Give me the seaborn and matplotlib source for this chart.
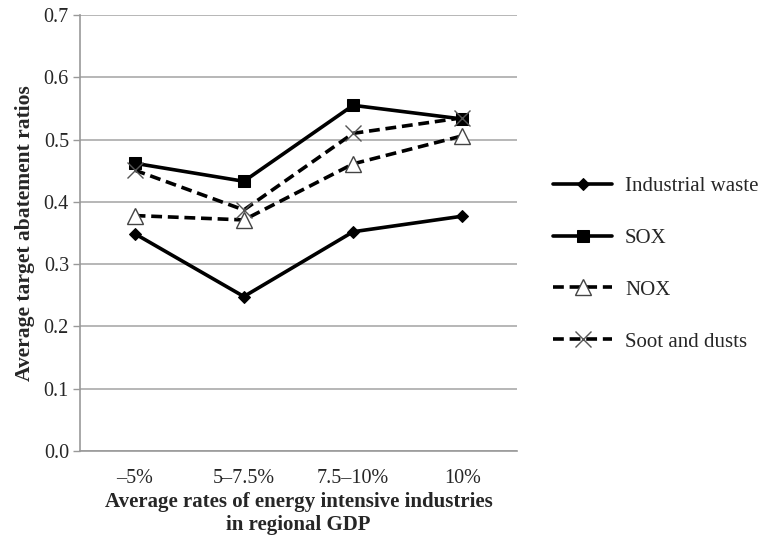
import numpy as np
import pandas as pd
import matplotlib
matplotlib.use("Agg")
import matplotlib.pyplot as plt
import seaborn as sns

categories = ["\u20135%", "5\u20137.5%", "7.5\u201310%", "10%"]
industrial_waste = [0.349, 0.248, 0.352, 0.377]
sox = [0.462, 0.433, 0.555, 0.533]
nox = [0.378, 0.371, 0.461, 0.506]
soot = [0.451, 0.387, 0.510, 0.535]

series_names = ["Industrial waste", "SOX", "NOX", "Soot and dusts"]
series_values = [industrial_waste, sox, nox, soot]

sns.set_theme(style="white")
plt.rcParams["font.family"] = ["Liberation Serif", "DejaVu Serif"]

fig = plt.figure(figsize=(7.61, 5.37), dpi=100)
ax = fig.add_axes([80 / 761, 1 - 451 / 537, 437 / 761, 436 / 537])

xpos = np.arange(len(categories))
styles = {
    "Industrial waste": dict(marker="D", markersize=6, markerfacecolor="black",
                             markeredgecolor="black", dashes=(None, None)),
    "SOX": dict(marker="s", markersize=8, markerfacecolor="black",
                markeredgecolor="black", dashes=(None, None)),
    "NOX": dict(marker="^", markersize=11, markerfacecolor="white",
                markeredgecolor="#444444", markeredgewidth=1.0, dashes=(3, 1.6)),
    "Soot and dusts": dict(marker="x", markersize=12, markerfacecolor="none",
                           markeredgecolor="#555555", markeredgewidth=1.0, dashes=(3, 1.6)),
}

for name, vals in zip(series_names, series_values):
    df = pd.DataFrame({"x": xpos, "y": vals})
    st = dict(styles[name])
    d = st.pop("dashes")
    sns.lineplot(data=df, x="x", y="y", ax=ax, sort=False, color="black",
                 linewidth=2.6, label=name, **st)
    ln = ax.get_lines()[-1]
    if d != (None, None):
        ln.set_dashes(d)

ax.set_xlim(-0.5, len(categories) - 0.5)
ax.set_ylim(0, 0.7)
yt = np.arange(0, 0.71, 0.1)
ax.set_yticks(yt)
ax.set_yticklabels([f"{v:.1f}" for v in yt], fontsize=14.5)
ax.set_xticks(xpos)
ax.set_xticklabels(categories, fontsize=14.5)
ax.set_xticks(np.arange(-0.5, len(categories), 1.0), minor=True)
ax.tick_params(axis="x", which="major", length=0, pad=13)
ax.tick_params(axis="x", which="minor", length=5, color="#999999", width=1, direction="out")
ax.tick_params(axis="y", length=5, color="#999999", width=1, direction="out", left=True, pad=3)
ax.yaxis.grid(True, color="#aaaaaa", linewidth=1.2)
ax.xaxis.grid(False)
for s in ["top", "right"]:
    ax.spines[s].set_visible(False)
for s in ["left", "bottom"]:
    ax.spines[s].set_color("#999999")
    ax.spines[s].set_linewidth(1.2)

ax.set_xlabel("Average rates of energy intensive industries\nin regional GDP",
              fontsize=15, fontweight="bold", labelpad=3, linespacing=1.2)
ax.set_ylabel("Average target abatement ratios", fontsize=15.5, fontweight="bold", labelpad=6)

handles, labels = ax.get_legend_handles_labels()
if ax.get_legend():
    ax.get_legend().remove()
fig.legend(handles, labels, loc="center left", bbox_to_anchor=(553 / 761, 1 - 264 / 537),
           frameon=False, fontsize=15, handlelength=2.85, labelspacing=1.55,
           handletextpad=0.6, borderpad=0, borderaxespad=0)

fig.savefig("out.png", dpi=100, facecolor="white")
